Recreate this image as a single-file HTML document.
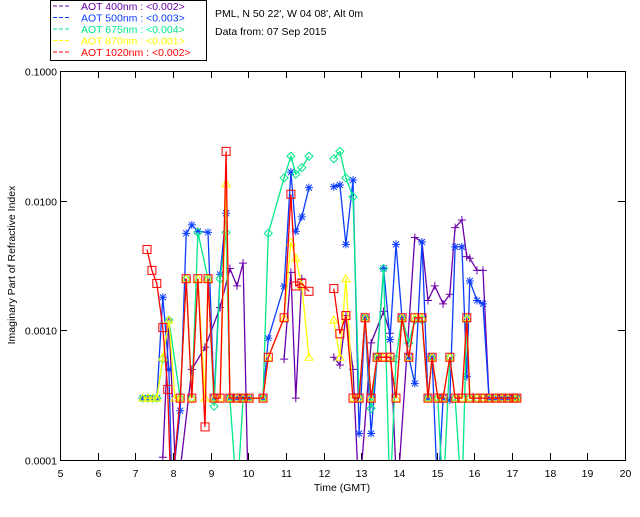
<!DOCTYPE html>
<html><head><meta charset="utf-8"><style>
body{margin:0;background:#fff;font-family:"Liberation Sans",sans-serif}
svg text{font-family:"Liberation Sans",sans-serif;font-size:10.5px}
</style></head><body>
<svg id="c" width="640" height="512">
<defs><clipPath id="cp"><rect x="60" y="71" width="565" height="389"/></clipPath></defs>
<rect x="50.5" y="0.5" width="156" height="60" fill="#fff" stroke="#000"/>
<text x="215" y="17">PML, N 50 22', W 04 08', Alt 0m</text>
<text x="215" y="35">Data from: 07 Sep 2015</text>
<g id="axes"></g><g id="marks" clip-path="url(#cp)"></g><g id="leg"></g>
</svg>
<script>
const xTicks=[5,6,7,8,9,10,11,12,13,14,15,16,17,18,19,20];
const yTicks=[0.0001,0.001,0.01,0.1];
const yTickLabels=["0.0001","0.0010","0.0100","0.1000"];
const legendLabels=["AOT  400nm : <0.002>","AOT  500nm : <0.003>","AOT  675nm : <0.004>","AOT  870nm : <0.001>","AOT 1020nm : <0.002>"];
const t400=[7.73,7.89,8.1,8.5,8.85,9.25,9.51,9.70,9.86,10.0,null,10.95,11.13,11.26,11.42,null,12.27,12.43,12.59,12.78,12.94,13.26,13.59,13.76,13.95,14.42,14.61,14.77,14.95,15.17,15.35,15.49,15.67,15.80,15.88,16.07,16.23,16.39];
const v400=[0.000105,0.0012,0.00005,0.0005,0.00074,0.0015,0.003,0.0022,0.0033,0.00005,null,0.0006,0.0028,0.0003,0.0025,null,0.00062,0.00054,0.0013,0.0005,0.00005,0.0008,0.0014,0.00095,0.00005,0.0052,0.0048,0.0017,0.0022,0.0016,0.0019,0.0062,0.0071,0.0037,0.0036,0.0029,0.0029,0.0003];
const t500=[7.20,7.33,7.46,7.57,7.73,7.89,7.97,8.19,8.35,8.50,8.66,8.93,9.09,9.25,9.41,9.51,9.70,9.86,10.02,10.39,10.53,10.95,11.13,11.26,11.42,11.61,null,12.27,12.43,12.59,12.78,12.94,13.10,13.26,13.42,13.59,13.76,13.92,14.08,14.26,14.42,14.61,14.77,14.88,15.03,15.17,15.35,15.49,15.67,15.80,15.88,16.07,16.23,16.39,16.57,16.73,16.89,17.05,17.13];
const v500=[0.0003,0.0003,0.0003,0.0003,0.0018,0.0005,0.00006,0.00024,0.0056,0.0065,0.0058,0.0057,0.0003,0.0027,0.008,0.0003,0.0003,0.0003,0.0003,0.0003,0.00087,0.0022,0.0166,0.0058,0.0075,0.0126,null,0.0128,0.0132,0.0046,0.0144,0.00016,0.00125,0.00016,0.00062,0.003,0.00085,0.0046,0.00125,0.00062,0.00039,0.0048,0.0003,0.00062,0.00005,0.0003,0.00029,0.0044,0.0044,0.00044,0.0024,0.0017,0.0016,0.0003,0.0003,0.0003,0.0003,0.0003,0.0003];
const t675=[7.20,7.33,7.46,7.57,7.73,7.89,8.19,8.35,8.50,8.66,8.93,9.09,9.25,9.41,9.51,9.70,9.86,10.02,10.39,10.53,10.95,11.13,11.26,11.42,11.61,null,12.27,12.43,12.59,12.78,12.94,13.10,13.26,13.42,13.59,13.76,13.92,14.08,14.26,14.42,14.61,14.77,14.88,15.03,15.17,15.35,15.49,15.67,15.80,15.88,16.07,16.23,16.39,16.57,16.73,16.89,17.05,17.13];
const v675=[0.0003,0.0003,0.0003,0.0003,0.0006,0.0012,0.0003,0.0025,0.0003,0.0057,0.0025,0.00026,0.0025,0.0057,0.0003,0.00005,0.0003,0.0003,0.0003,0.0056,0.015,0.022,0.016,0.018,0.022,null,0.021,0.024,0.015,0.0107,0.0003,0.00125,0.00025,0.00062,0.003,0.00005,0.0006,0.00125,0.0008,0.0012,0.0012,0.0003,0.00062,0.0003,0.00005,0.00062,0.0003,0.00005,0.0012,0.0003,0.0003,0.0003,0.0003,0.0003,0.0003,0.0003,0.0003,0.0003];
const t870=[7.20,7.33,7.46,7.57,7.73,7.89,8.05,8.19,8.35,8.50,8.66,8.85,8.93,9.09,9.25,9.41,9.51,9.70,9.86,10.02,10.39,10.53,10.95,11.13,11.26,11.42,11.61,null,12.27,12.43,12.59,12.78,12.94,13.10,13.26,13.42,13.57,13.76,13.92,14.08,14.26,14.42,14.61,14.77,14.88,15.03,15.17,15.35,15.49,15.67,15.80,15.88,16.07,16.23,16.39,16.57,16.73,16.89,17.05,17.13];
const v870=[0.0003,0.0003,0.0003,0.0003,0.00062,0.0012,0.0003,0.0003,0.0025,0.0003,0.0025,0.0003,0.0025,0.0003,0.0003,0.0135,0.0003,0.0003,0.0003,0.0003,0.0003,0.00062,0.00125,0.0048,0.0036,0.0022,0.00062,null,0.0012,0.00062,0.0025,0.0003,0.0003,0.00125,0.0003,0.00062,0.00062,0.00062,0.0003,0.00125,0.00062,0.00125,0.00125,0.0003,0.00062,0.0003,0.0003,0.00062,0.0003,0.0003,0.00125,0.0003,0.0003,0.0003,0.0003,0.0003,0.0003,0.0003,0.0003,0.0003];
const t1020=[7.31,7.44,7.57,7.73,7.86,7.95,8.19,8.35,8.50,8.66,8.85,8.93,9.09,9.25,9.41,9.51,9.70,9.86,10.02,10.39,10.53,10.95,11.13,11.26,11.42,11.61,null,12.27,12.43,12.59,12.78,12.94,13.10,13.26,13.42,13.57,13.76,13.92,14.08,14.26,14.42,14.61,14.77,14.88,15.03,15.17,15.35,15.49,15.67,15.80,15.88,16.07,16.23,16.39,16.57,16.73,16.89,17.05,17.13];
const v1020=[0.0042,0.0029,0.0023,0.00105,0.00035,0.00005,0.0003,0.0025,0.0003,0.0025,0.00018,0.0025,0.0003,0.0003,0.024,0.0003,0.0003,0.0003,0.0003,0.0003,0.00062,0.00125,0.0112,0.0022,0.0023,0.002,null,0.0021,0.00094,0.0013,0.0003,0.0003,0.00125,0.0003,0.00062,0.00062,0.00062,0.0003,0.00125,0.00062,0.00125,0.00125,0.0003,0.00062,0.0003,0.0003,0.00062,0.0003,0.0003,0.00125,0.0003,0.0003,0.0003,0.0003,0.0003,0.0003,0.0003,0.0003,0.0003];
const NS='http://www.w3.org/2000/svg';
const X0=60,X1=625,Y0=460,Y1=71;
const xs=t=>X0+(t-5)/(20-5)*(X1-X0);
const ys=v=>Y0-(Math.log10(v)+4)/3*(Y0-Y1);
function mk(tag,attrs,parent,text){const e=document.createElementNS(NS,tag);for(const k in attrs)e.setAttribute(k,attrs[k]);if(text!==undefined)e.textContent=text;parent.appendChild(e);return e;}
const ax=document.getElementById('axes'),mg=document.getElementById('marks'),lg=document.getElementById('leg');
const frame=mk('rect',{x:X0+0.5,y:Y1+0.5,width:X1-X0,height:Y0-Y1,fill:'none',stroke:'#000'},ax);


xTicks.forEach(t=>{const x=Math.round(xs(t))+0.5;mk('line',{x1:x,x2:x,y1:Y0,y2:Y0-7,stroke:'#000'},ax);mk('line',{x1:x,x2:x,y1:Y1,y2:Y1+7,stroke:'#000'},ax);
const l=mk('text',{x:x,y:Y0+17,'text-anchor':'middle'},ax,String(t));

});
yTicks.forEach((v,i)=>{const y=Math.round(ys(v))+0.5;mk('line',{x1:X0,x2:X0+7,y1:y,y2:y,stroke:'#000'},ax);mk('line',{x1:X1,x2:X1-7,y1:y,y2:y,stroke:'#000'},ax);
const l=mk('text',{x:X0-3,y:y+4,'text-anchor':'end'},ax,yTickLabels[i]);

});
const xt=mk('text',{x:342,y:491,'text-anchor':'middle'},ax,'Time (GMT)');


const yt=mk('text',{x:0,y:0,'text-anchor':'middle',transform:'translate(15,265) rotate(-90)'},ax,'Imaginary Part of Refractive Index');


function marker(type,x,y,c,g){
 if(type==='plus'){mk('path',{d:`M${x-4},${y}h8M${x},${y-4}v8`,stroke:c,fill:'none'},g);}
 else if(type==='star'){mk('path',{d:`M${x-4},${y}h8M${x},${y-4}v8M${x-3},${y-3}l6,6M${x-3},${y+3}l6,-6`,stroke:c,fill:'none'},g);}
 else if(type==='diamond'){mk('path',{d:`M${x},${y-4}l4,4l-4,4l-4,-4z`,stroke:c,fill:'none'},g);}
 else if(type==='tri'){mk('path',{d:`M${x},${y-4}l4,7h-8z`,stroke:c,fill:'none'},g);}
 else {mk('rect',{x:x-4,y:y-4,width:8,height:8,stroke:c,fill:'none'},g);}
}
const series=[[t400,v400,'#6a00aa','plus','series-400nm'],[t500,v500,'#0a3cff','star','series-500nm'],[t675,v675,'#00e887','diamond','series-675nm'],[t870,v870,'#ffff00','tri','series-870nm'],[t1020,v1020,'#ff0000','square','series-1020nm']];
series.forEach(([T,V,c,m,name])=>{
 const g=mk('g',{},mg);
 
 
 let d='',pen=false;
 T.forEach((t,i)=>{if(t===null||V[i]===null){pen=false;return;}d+=(pen?'L':'M')+xs(t).toFixed(1)+','+ys(V[i]).toFixed(1);pen=true;});
 mk('path',{d:d,stroke:c,fill:'none','stroke-width':1.3},g);
 T.forEach((t,i)=>{if(t===null||V[i]===null)return;marker(m,xs(t),ys(V[i]),c,g);});
});
series.forEach(([T,V,c],i)=>{
 const y=9+i*11.5;
 const e=mk('g',{},lg);
 
 
 mk('line',{x1:53,x2:70,y1:y-3,y2:y-3,stroke:c,'stroke-dasharray':'4,2'},e);
 mk('text',{x:81,y:y+1,fill:c,style:'font-size:10.5px'},e,legendLabels[i]);
});
</script>
</body></html>
